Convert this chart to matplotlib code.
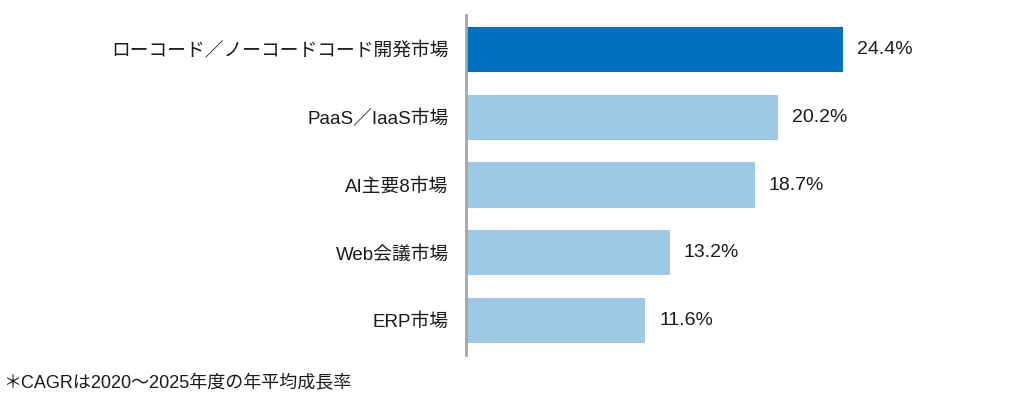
import matplotlib
matplotlib.use("Agg")
import matplotlib.pyplot as plt

# データ
categories = ["ローコード／ノーコードコード開発市場", "PaaS／IaaS市場", "AI主要8市場", "Web会議市場", "ERP市場"]
cagr = [24.4, 20.2, 18.7, 13.2, 11.6]
note = "＊CAGRは2020～2025年度の年平均成長率"

plt.rcParams['font.family'] = ['Liberation Sans', 'Noto Sans CJK JP', 'DejaVu Sans']

fig = plt.figure(figsize=(10.30, 3.97), dpi=100)
ax = fig.add_axes([466 / 1030, 42 / 397, 463.5 / 1030, 340 / 397])

colors = ['#0070C0'] + ['#9DC9E7'] * (len(cagr) - 1)
y = list(range(len(categories)))
ax.barh(y, cagr, height=0.665, color=colors)

for yi, v in zip(y, cagr):
    ax.text(v + 0.9, yi, f"{v:.1f}%", va='center', ha='left', fontsize=14, color='#1a1a1a')

ax.set_xlim(0, 30)
ax.set_ylim(len(categories) - 0.49, -0.51)
ax.set_yticks(y)
ax.set_yticklabels(categories, fontsize=13.5, color='#1a1a1a')
ax.tick_params(axis='y', length=0, pad=12.5)
ax.set_xticks([])

for s in ['top', 'right', 'bottom']:
    ax.spines[s].set_visible(False)
ax.spines['left'].set_color('#a6a6a6')
ax.spines['left'].set_linewidth(2)

fig.text(3 / 1030, 1 - 384 / 397, note, fontsize=13, va='center', ha='left', color='#1a1a1a')

fig.savefig("out.png", dpi=100)
